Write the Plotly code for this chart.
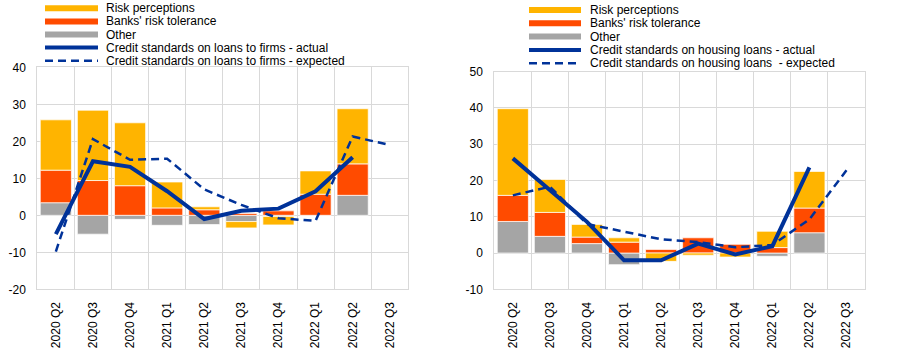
import plotly.graph_objects as go

W, H = 905, 352

categories = ["2020 Q2", "2020 Q3", "2020 Q4", "2021 Q1", "2021 Q2",
              "2021 Q3", "2021 Q4", "2022 Q1", "2022 Q2", "2022 Q3"]

# Left panel: loans to firms
firms_other = [3.4, -5.1, -1.1, -2.7, -2.5, -1.7, -0.3, 0.0, 5.4, None]
firms_banks = [8.8, 9.4, 8.0, 2.0, 1.5, 0.5, 1.2, 5.7, 8.5, None]
firms_risk = [13.6, 19.0, 17.0, 7.0, 0.8, -1.7, -2.3, 6.3, 14.9, None]
firms_actual = [-5.1, 14.6, 13.1, 6.5, -1.0, 1.2, 1.8, 6.5, 15.7, None]
firms_expected = [-9.8, 20.6, 15.0, 15.3, 7.0, 2.8, -0.8, -1.5, 21.3, 19.0]

# Right panel: housing loans
house_other = [8.7, 4.6, 2.6, -3.2, 0.0, 0.0, 0.0, -0.9, 5.6, None]
house_banks = [7.2, 6.6, 1.8, 3.0, 1.0, 4.2, 2.4, 1.5, 6.8, None]
house_risk = [23.9, 9.1, 3.5, 1.2, -2.3, -0.6, -1.1, 4.5, 10.1, None]
house_actual = [26.1, 17.5, 8.6, -2.0, -2.0, 2.6, -0.4, 1.9, 23.6, None]
house_expected = [15.9, 18.3, 8.0, 5.8, 3.8, 3.0, 1.6, 2.2, 9.3, 22.8]

left_ticks = [-20, -10, 0, 10, 20, 30, 40]
right_ticks = [-10, 0, 10, 20, 30, 40, 50]

legend_left = ["Risk perceptions", "Banks' risk tolerance", "Other",
               "Credit standards on loans to firms - actual",
               "Credit standards on loans to firms - expected"]
legend_right = ["Risk perceptions", "Banks' risk tolerance", "Other",
                "Credit standards on housing loans - actual",
                "Credit standards on housing loans&nbsp; - expected"]

YELLOW = "#FFB400"
ORANGE = "#FF4B00"
GREY = "#A5A5A5"
BLUE = "#003299"
GRID = "#D9D9D9"
FONT = "Liberation Sans, Arial, sans-serif"


def px_x(x):
    return x / W


def px_y(y):
    return 1 - y / H


fig = go.Figure()

panels = [
    ("x", "y", firms_other, firms_banks, firms_risk, firms_actual, firms_expected),
    ("x2", "y2", house_other, house_banks, house_risk, house_actual, house_expected),
]
for xa, ya, oth, bnk, rsk, act, exp_ in panels:
    for vals, col in [(oth, GREY), (bnk, ORANGE), (rsk, YELLOW)]:
        fig.add_trace(go.Bar(
            x=categories, y=vals, xaxis=xa, yaxis=ya,
            marker=dict(color=col, line=dict(color="rgba(255,255,255,0.7)", width=1)),
            width=0.84, showlegend=False, hoverinfo="skip"))
    fig.add_trace(go.Scatter(
        x=categories, y=act, xaxis=xa, yaxis=ya, mode="lines",
        line=dict(color=BLUE, width=4), showlegend=False, connectgaps=False))
    fig.add_trace(go.Scatter(
        x=categories, y=exp_, xaxis=xa, yaxis=ya, mode="lines",
        line=dict(color=BLUE, width=2.5, dash="8px,5px"), showlegend=False))

axis_common = dict(
    showgrid=True, gridcolor=GRID, gridwidth=1,
    showline=True, linecolor=GRID, linewidth=1, mirror=True,
    zeroline=True, zerolinecolor=GRID, zerolinewidth=1,
    tickfont=dict(family=FONT, size=12, color="#000000"),
    automargin=False, ticks="",
)

fig.update_layout(
    width=W, height=H,
    margin=dict(l=0, r=0, t=0, b=0),
    paper_bgcolor="white", plot_bgcolor="white",
    barmode="relative", bargap=0.16,
    xaxis=dict(domain=[px_x(37.3), px_x(408.3)], anchor="y", tickangle=-90,
               type="category", tickson="boundaries", ticklabelstandoff=7, **axis_common),
    yaxis=dict(domain=[px_y(289.3), px_y(67.3)], anchor="x", range=[-20, 40],
               tickvals=left_ticks, ticktext=[str(v) for v in left_ticks],
               ticklabelstandoff=8, **axis_common),
    xaxis2=dict(domain=[px_x(494.3), px_x(865.0)], anchor="y2", tickangle=-90,
                type="category", tickson="boundaries", ticklabelstandoff=7, **axis_common),
    yaxis2=dict(domain=[px_y(289.3), px_y(71.7)], anchor="x2", range=[-10, 50],
                tickvals=right_ticks, ticktext=[str(v) for v in right_ticks],
                ticklabelstandoff=8, **axis_common),
    showlegend=False,
)

# Manual compact legends, as in the reference
shapes = []
annotations = []
legend_styles = [
    dict(color=YELLOW, width=6, dash="solid"),
    dict(color=ORANGE, width=6, dash="solid"),
    dict(color=GREY, width=6, dash="solid"),
    dict(color=BLUE, width=4, dash="solid"),
    dict(color=BLUE, width=2.5, dash="8px,5px"),
]
for labels, x0, x1, xt, ytop, step in [
    (legend_left, 45, 98, 104, 8.3, 13.1),
    (legend_right, 529, 581, 588, 10.0, 13.3),
]:
    for i, (lab, st) in enumerate(zip(labels, legend_styles)):
        yy = ytop + i * step
        shapes.append(dict(type="line", xref="paper", yref="paper",
                           x0=px_x(x0), x1=px_x(x1), y0=px_y(yy), y1=px_y(yy),
                           line=st))
        annotations.append(dict(text=lab, xref="paper", yref="paper",
                                x=px_x(xt), y=px_y(yy), xanchor="left", yanchor="middle",
                                showarrow=False,
                                font=dict(family=FONT, size=12, color="#000000")))
fig.update_layout(shapes=shapes, annotations=annotations)

fig.write_html("out.html")
